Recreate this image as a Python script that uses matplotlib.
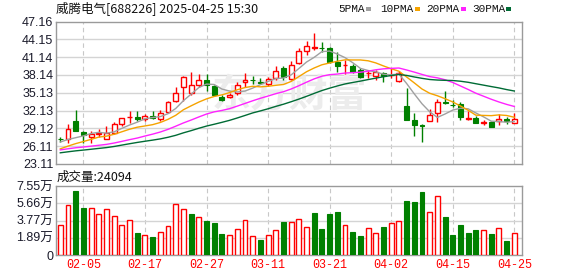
import numpy as np
import matplotlib
matplotlib.use("Agg")
import matplotlib.pyplot as plt
from matplotlib.patches import Rectangle

# ---------------- data ----------------
dates = ["01-23", "01-24", "01-27",
         "02-05", "02-06", "02-07", "02-10", "02-11", "02-12", "02-13", "02-14", "02-17", "02-18",
         "02-19", "02-20", "02-21", "02-24", "02-25", "02-26", "02-27", "02-28",
         "03-03", "03-04", "03-05", "03-06", "03-07", "03-10", "03-11", "03-12", "03-13", "03-14",
         "03-17", "03-18", "03-19", "03-20", "03-21", "03-24", "03-25", "03-26", "03-27", "03-28", "03-31",
         "04-01", "04-02", "04-03", "04-07", "04-08", "04-09", "04-10", "04-11", "04-14", "04-15",
         "04-16", "04-17", "04-18", "04-21", "04-22", "04-23", "04-24", "04-25"]

open_ = [27.32, 27.40, 30.34, 28.53, 27.73, 28.13, 27.40, 28.31, 29.89, 30.98,
         31.02, 30.78, 31.24, 30.78, 31.92, 33.73, 36.10, 35.09, 36.44, 37.34,
         36.32, 34.41, 34.41, 35.09, 36.99, 37.30, 36.90, 36.66, 37.56, 39.37,
         37.46, 40.17, 42.20, 42.74, 42.68, 42.76, 40.27, 39.85, 39.71, 39.03,
         38.42, 37.90, 38.47, 38.05, 37.12, 32.93, 30.56, 29.65, 30.44, 31.70,
         33.50, 33.12, 33.27, 30.68, 30.90, 30.10, 30.22, 30.34, 30.78, 30.10]
high = [27.60, 29.89, 32.14, 28.60, 28.65, 28.99, 29.55, 30.22, 30.90, 32.04,
        32.04, 31.58, 32.04, 32.14, 33.73, 36.10, 37.90, 38.69, 38.35, 38.35,
        36.40, 34.75, 35.09, 36.88, 38.47, 37.90, 37.68, 37.80, 39.59, 39.59,
        40.50, 42.64, 43.89, 45.25, 43.66, 42.80, 42.08, 40.73, 39.93, 39.25,
        39.03, 38.91, 38.69, 39.25, 38.75, 35.98, 31.80, 29.89, 32.37, 34.07,
        35.43, 33.95, 33.50, 32.04, 31.24, 30.56, 30.30, 31.58, 31.12, 31.80]
low = [26.85, 26.62, 28.70, 26.72, 26.62, 27.73, 27.30, 28.20, 29.55, 30.10,
       30.44, 30.44, 30.68, 30.44, 31.80, 33.65, 33.73, 34.75, 36.10, 35.43,
       34.63, 33.73, 34.19, 34.75, 36.10, 36.66, 36.55, 36.21, 37.22, 37.34,
       37.34, 39.93, 41.52, 42.30, 41.96, 40.17, 38.57, 38.35, 38.50, 37.56,
       37.68, 37.22, 36.88, 37.68, 37.00, 30.50, 27.85, 26.89, 30.40, 30.22,
       33.27, 32.71, 30.56, 30.60, 30.00, 29.66, 29.40, 29.66, 29.89, 30.00]
close = [27.28, 29.09, 28.75, 27.97, 28.19, 28.31, 28.35, 29.89, 30.90, 31.02,
         30.68, 31.24, 30.90, 31.70, 33.49, 35.09, 37.80, 36.44, 37.22, 36.44,
         34.75, 33.95, 34.75, 36.44, 37.22, 37.26, 36.85, 37.45, 38.81, 37.80,
         39.83, 42.20, 42.98, 42.78, 42.62, 40.27, 39.71, 39.90, 38.57, 37.80,
         38.47, 38.57, 37.90, 38.10, 38.40, 30.56, 29.77, 29.55, 31.36, 33.61,
         33.45, 33.07, 31.12, 30.90, 30.10, 30.15, 29.43, 30.78, 30.34, 30.68]
prev_close_first = 27.00

ma5 = [26.82, 27.25, 27.55, 27.85, 28.26, 28.46, 28.31, 28.54, 29.13, 29.69,
       30.17, 30.75, 30.95, 31.11, 31.60, 32.48, 33.80, 34.90, 36.01, 36.60,
       36.53, 35.76, 35.42, 35.27, 35.42, 35.92, 36.50, 37.04, 37.52, 37.63,
       38.15, 39.22, 40.32, 41.12, 42.08, 42.17, 41.67, 41.06, 40.21, 39.25,
       38.89, 38.66, 38.26, 38.17, 38.29, 36.71, 34.95, 33.28, 31.93, 30.97,
       31.55, 32.21, 32.52, 32.43, 31.73, 31.07, 30.34, 30.27, 30.16, 30.28]
ma10 = [25.67, 26.13, 26.55, 26.90, 27.27, 27.65, 27.81, 28.13, 28.55, 28.98,
        29.32, 29.53, 29.75, 30.12, 30.65, 31.33, 32.27, 32.93, 33.56, 34.10,
        34.51, 34.78, 35.16, 35.64, 36.01, 36.23, 36.13, 36.23, 36.39, 36.53,
        37.04, 37.86, 38.68, 39.32, 39.86, 40.16, 40.45, 40.69, 40.67, 40.67,
        40.53, 40.17, 39.66, 39.19, 38.77, 37.80, 36.80, 35.77, 35.05, 34.63,
        34.13, 33.58, 32.90, 32.18, 31.35, 31.31, 31.27, 31.40, 31.30, 31.00]
ma20 = [25.49, 25.68, 25.85, 25.98, 26.12, 26.27, 26.42, 26.65, 26.93, 27.22,
        27.49, 27.83, 28.15, 28.51, 28.96, 29.49, 30.04, 30.53, 31.05, 31.54,
        31.91, 32.15, 32.45, 32.88, 33.33, 33.78, 34.20, 34.58, 34.98, 35.31,
        35.77, 36.32, 36.92, 37.48, 37.93, 38.19, 38.29, 38.46, 38.53, 38.60,
        38.78, 39.01, 39.17, 39.25, 39.31, 38.98, 38.62, 38.23, 37.86, 37.65,
        37.33, 36.87, 36.28, 35.69, 35.06, 34.55, 34.04, 33.58, 33.17, 32.82]
ma30 = [25.00, 25.17, 25.33, 25.46, 25.60, 25.74, 25.88, 26.07, 26.30, 26.53,
        26.75, 26.95, 27.14, 27.35, 27.62, 27.95, 28.37, 28.74, 29.14, 29.51,
        29.82, 30.14, 30.48, 30.88, 31.30, 31.73, 32.07, 32.43, 32.83, 33.20,
        33.62, 34.06, 34.53, 35.03, 35.51, 35.91, 36.28, 36.62, 36.87, 37.10,
        37.36, 37.60, 37.84, 38.05, 38.21, 38.06, 37.80, 37.57, 37.37, 37.28,
        37.23, 37.20, 37.08, 36.90, 36.66, 36.42, 36.18, 35.95, 35.67, 35.43]

volume_wan = [3.26, 5.50, 7.00, 5.15, 5.12, 4.50, 5.00, 4.25, 3.26, 3.80,
              2.41, 2.16, 1.97, 2.49, 3.14, 5.55, 5.00, 4.50, 4.13, 3.73,
              3.51, 2.30, 2.16, 2.82, 3.80, 2.05, 1.64, 2.16, 2.71, 3.62,
              3.59, 3.92, 3.04, 4.60, 2.86, 4.50, 4.71, 3.26, 2.52, 2.08,
              2.93, 2.38, 3.08, 3.51, 3.70, 5.90, 5.80, 6.88, 4.68, 6.42,
              4.17, 2.19, 3.30, 2.41, 2.75, 2.71, 2.30, 2.93, 1.53, 2.41]

price_ticks = ["23.11", "26.11", "29.12", "32.13", "35.13", "38.14", "41.14", "44.15", "47.16"]
vol_ticks = [0, 1.89, 3.77, 5.66, 7.55]
vol_tick_labels = ["0", "1.89万", "3.77万", "5.66万", "7.55万"]
date_tick_idx = [3, 11, 19, 27, 35, 43, 51, 59]

title_text = "威腾电气[688226] 2025-04-25 15:30"
vol_title = "成交量:24094"
ma_names = ["5PMA", "10PMA", "20PMA", "30PMA"]

# ---------------- style ----------------
RED = "#ff0000"
GREEN = "#008000"
MA_COLORS = ["#a0a0a0", "#f5a300", "#ff22ff", "#006b35"]
GRID = "#d4d4d4"
SPINE = "#9a9a9a"
TXT = "#1a1a2a"
LBL_FONT = ["Liberation Sans", "Noto Sans CJK SC"]
CJK_FONT = ["Noto Sans CJK SC", "DejaVu Sans"]

W, H = 578, 276
fig = plt.figure(figsize=(W / 100, H / 100), dpi=100)
fig.patch.set_facecolor("white")

L, R = 56, 522
ax = fig.add_axes([L / W, 1 - 164 / H, (R - L) / W, 142.5 / H])
axv = fig.add_axes([L / W, 1 - 255 / H, (R - L) / W, 69 / H])

n = len(close)
x = np.arange(n)
o = np.array(open_); c = np.array(close); hi = np.array(high); lo = np.array(low)
up = c > o
dn = ~up
body_lo = np.minimum(o, c)
body_hi = np.maximum(o, c)
body_h = np.maximum(body_hi - body_lo, 0.015)
BW = 0.64

xl = (-0.56, 60.0)
for a in (ax, axv):
    a.set_xlim(*xl)
    for s in a.spines.values():
        s.set_color(SPINE)
        s.set_linewidth(1.0)
    a.tick_params(length=0)
    for i in date_tick_idx:
        a.axvline(i, color="#c8c8c8", lw=0.8, ls=(0, (4, 3)), zorder=0)

# price panel
pvals = [float(t) for t in price_ticks]
ax.set_ylim(pvals[0], pvals[-1])
ax.set_yticks(pvals)
ax.set_yticklabels(price_ticks, fontsize=9, color=TXT, family=LBL_FONT)
for v in pvals[1:-1]:
    ax.axhline(v, color=GRID, lw=1.0, zorder=0)
ax.set_xticks([])
ax.tick_params(axis="y", pad=2)

# watermark
ax.text(0.5, 0.48, "东方财富", transform=ax.transAxes, ha="center", va="center",
        fontsize=28, fontweight="bold", color="#ececec", family=CJK_FONT, zorder=0.5)

# candles
ax.vlines(x[dn], lo[dn], hi[dn], color=GREEN, lw=1.0, zorder=2)
ax.bar(x[dn], body_h[dn], bottom=body_lo[dn], width=BW, color=GREEN,
       edgecolor=GREEN, lw=0.8, zorder=3)
ax.vlines(x[up], body_hi[up], hi[up], color=RED, lw=1.0, zorder=2)
ax.vlines(x[up], lo[up], body_lo[up], color=RED, lw=1.0, zorder=2)
ax.bar(x[up], body_h[up], bottom=body_lo[up], width=BW, facecolor="white",
       edgecolor=RED, lw=1.0, zorder=3)

for ser, col in zip([ma5, ma10, ma20, ma30], MA_COLORS):
    ax.plot(x, ser, color=col, lw=1.0, zorder=4)

# volume panel
prev = np.concatenate([[prev_close_first], c[:-1]])
vup = c >= prev
vol = np.array(volume_wan)
axv.set_ylim(0, vol_ticks[-1])
axv.set_yticks(vol_ticks)
axv.set_yticklabels(vol_tick_labels, fontsize=9, color=TXT, family=LBL_FONT)
axv.tick_params(axis="y", pad=2)
for v in vol_ticks[1:-1]:
    axv.axhline(v, color=GRID, lw=1.0, zorder=0)
axv.bar(x[vup], vol[vup], width=BW, facecolor="white", edgecolor=RED, lw=1.0, zorder=3)
axv.bar(x[~vup], vol[~vup], width=BW, color=GREEN, edgecolor=GREEN, lw=0.8, zorder=3)
axv.set_xticks(date_tick_idx)
axv.set_xticklabels([dates[i] for i in date_tick_idx], fontsize=8.5, color=RED,
                    family=["Liberation Mono", "DejaVu Sans Mono"])
axv.tick_params(axis="x", pad=3)

# texts
fig.text(56 / W, 1 - 9 / H, title_text, fontsize=9, color="#111111",
         family=CJK_FONT, ha="left", va="center")
fig.text(57 / W, 1 - 177 / H, vol_title, fontsize=9, color="#111111",
         family=CJK_FONT, ha="left", va="center")

leg_x = [338, 380, 426, 472]
sq_x = [365.5, 414.5, 461, 505.5]
for name, lx, sx, col in zip(ma_names, leg_x, sq_x, MA_COLORS):
    fig.text(lx / W, 1 - 9 / H, name, fontsize=8, color="#111111",
             family=["Liberation Mono", "DejaVu Sans Mono"], ha="left", va="center")
    fig.patches.append(Rectangle((sx / W, 1 - 10.5 / H), 5 / W, 3.5 / H,
                                 transform=fig.transFigure, facecolor=col,
                                 edgecolor="none", figure=fig))

fig.savefig("out.png", dpi=100, facecolor="white")
